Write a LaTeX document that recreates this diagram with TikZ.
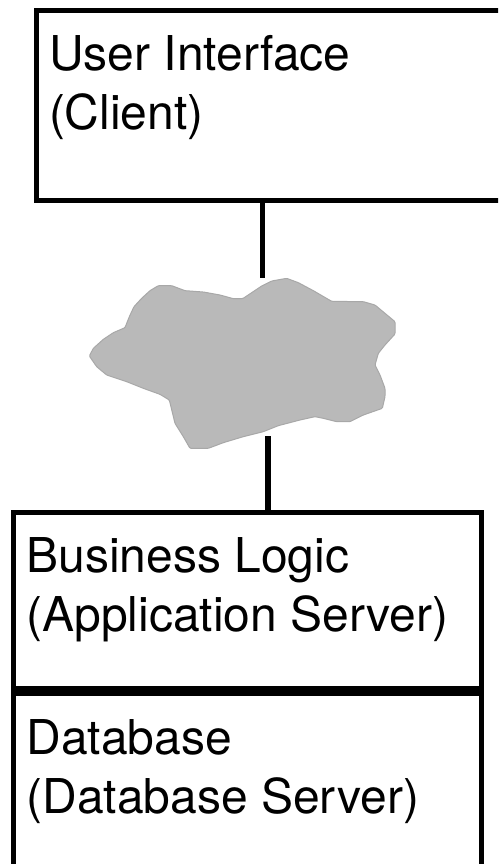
\documentclass[tikz,border=0pt]{standalone}
\usepackage{fontspec}
\setmainfont{TeX Gyre Heros}
\definecolor{cloudgray}{HTML}{B9B9B9}
\definecolor{cloudedge}{HTML}{A8A8A8}
\tikzset{
  tier/.style={draw=black, line width=5.4pt, fill=white, rectangle, anchor=north west, inner sep=0pt, outer sep=0pt},
  tiertext/.style={anchor=north west, inner sep=0pt, outer sep=0pt, align=left, text=black, font=\fontsize{48}{59}\selectfont},
  link/.style={draw=black, line width=5.6pt},
  cloudshape/.style={fill=cloudgray, draw=cloudedge, line width=1pt, rounded corners=1pt}
}
\begin{document}
\begin{tikzpicture}[x=1pt,y=-1pt]
\useasboundingbox (0,0) rectangle (498,864);
\clip (0,0) rectangle (498,864);
\fill[white] (0,0) rectangle (498,864);
% tiers
\node[tier, minimum width=500pt, minimum height=190pt] (ui) at (36.5,10.5) {};
\node[tier, minimum width=468pt, minimum height=176pt] (bl) at (13.5,512.5) {};
\node[tier, minimum width=468pt, minimum height=200pt] (db) at (13.5,693) {};
% labels
\node[tiertext] (uitext) at (49,35) {User Interface\\(Client)};
\node[tiertext] (bltext) at (26.5,538) {Business Logic\\(Application Server)};
\node[tiertext] (dbtext) at (26.5,719) {Database\\(Database Server)};
% network cloud
\begin{scope}[shift={(70,260)}, x=0.33333pt, y=0.33333pt, yscale=-1]
\draw[cloudshape] (58,288)--(70,265)--(100,238)--(130,218)--(165,203)--(178,170)--(192,140)--(215,115)--(240,92)--(265,77)--(305,77)--(345,92)--(400,96)--(450,105)--(490,116)--(518,116)--(545,98)--(575,78)--(605,63)--(650,55)--(685,68)--(730,92)--(785,124)--(880,125)--(915,135)--(945,160)--(975,185)--(975,222)--(945,255)--(925,280)--(915,315)--(930,345)--(945,385)--(945,410)--(937,445)--(880,465)--(840,485)--(800,485)--(760,475)--(735,470)--(690,480)--(625,497)--(580,515)--(520,530)--(460,548)--(415,565)--(360,565)--(340,530)--(315,490)--(298,420)--(270,403)--(220,385)--(170,365)--(110,345)--(80,320)--cycle;
\end{scope}
% connectors
\coordinate (linkup) at (262.5,278);
\coordinate (linkdown) at (268,436);
\draw[link] (ui.south -| linkup) -- (linkup);
\draw[link] (linkdown) -- (linkdown |- bl.north);
\end{tikzpicture}
\end{document}
